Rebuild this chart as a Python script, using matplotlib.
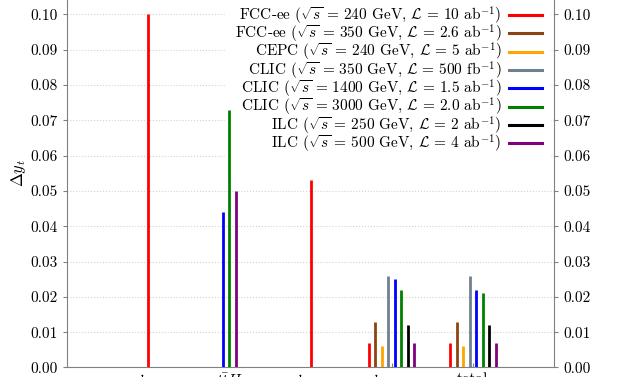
import numpy as np
import matplotlib
matplotlib.use("Agg")
import matplotlib.pyplot as plt

plt.rcParams['font.family'] = 'serif'
plt.rcParams['font.serif'] = ['cmr10']
plt.rcParams['mathtext.fontset'] = 'cm'
plt.rcParams['axes.formatter.use_mathtext'] = True

# channels on the x axis
channels = [r'$h_{gg}$', r'$t\bar{t}H$', r'$h_{\rm incl.}$', r'$h_{\rm global}$', 'total']

labels = [
    r'FCC-ee ($\sqrt{s}\,=\,240$ GeV, $\mathcal{L}\,=\,10$ ab$^{-1}$)',
    r'FCC-ee ($\sqrt{s}\,=\,350$ GeV, $\mathcal{L}\,=\,2.6$ ab$^{-1}$)',
    r'CEPC ($\sqrt{s}\,=\,240$ GeV, $\mathcal{L}\,=\,5$ ab$^{-1}$)',
    r'CLIC ($\sqrt{s}\,=\,350$ GeV, $\mathcal{L}\,=\,500$ fb$^{-1}$)',
    r'CLIC ($\sqrt{s}\,=\,1400$ GeV, $\mathcal{L}\,=\,1.5$ ab$^{-1}$)',
    r'CLIC ($\sqrt{s}\,=\,3000$ GeV, $\mathcal{L}\,=\,2.0$ ab$^{-1}$)',
    r'ILC ($\sqrt{s}\,=\,250$ GeV, $\mathcal{L}\,=\,2$ ab$^{-1}$)',
    r'ILC ($\sqrt{s}\,=\,500$ GeV, $\mathcal{L}\,=\,4$ ab$^{-1}$)',
]
colors = ['red', 'saddlebrown', 'orange', 'slategray', 'blue', 'green', 'black', 'purple']

nan = np.nan
fcc240 = [0.100, nan, 0.053, 0.007, 0.007]
fcc350 = [nan, nan, nan, 0.013, 0.013]
cepc240 = [nan, nan, nan, 0.006, 0.006]
clic350 = [nan, nan, nan, 0.026, 0.026]
clic1400 = [nan, 0.044, nan, 0.025, 0.022]
clic3000 = [nan, 0.073, nan, 0.022, 0.021]
ilc250 = [nan, nan, nan, 0.012, 0.012]
ilc500 = [nan, 0.050, nan, 0.007, 0.007]
series = [fcc240, fcc350, cepc240, clic350, clic1400, clic3000, ilc250, ilc500]

fig = plt.figure(figsize=(6.28, 3.77), dpi=100)
ax = fig.add_axes([0.1067, 0.0252, 0.7755, 1.03])

step = 0.08
for j in range(len(channels)):
    present = [i for i in range(len(series)) if not np.isnan(series[i][j])]
    n = len(present)
    for k, i in enumerate(present):
        x = j + (k - (n - 1) / 2) * step
        ax.vlines(x, 0, series[i][j], color=colors[i], lw=2.0, zorder=3)

for i in range(len(series)):
    ax.plot([], [], color=colors[i], lw=2.2, label=labels[i])

ax.set_xlim(-1, 5)
ax.set_ylim(0, 0.11)
ax.set_xticks(range(len(channels)))
ax.set_xticklabels(channels, fontsize=11)
ax.set_yticks(np.arange(0, 0.101, 0.01))
ax.yaxis.set_major_formatter(matplotlib.ticker.FormatStrFormatter('%.2f'))
ax.tick_params(axis='y', which='both', direction='out', labelsize=11, right=True,
               labelright=True, colors='gray', labelcolor='black', length=3)
ax.tick_params(axis='x', direction='in', colors='gray', labelcolor='black', length=3)
for s in ax.spines.values():
    s.set_color('gray')
ax.grid(axis='y', linestyle=':', color='lightgray', lw=0.8)
ax.set_axisbelow(True)
ax.set_ylabel(r'$\Delta y_t$', fontsize=12, labelpad=2)

leg = ax.legend(loc='upper right', bbox_to_anchor=(1.01, 0.978), markerfirst=False,
                fontsize=11, frameon=True, framealpha=1, edgecolor='none',
                handlelength=2.15, handletextpad=0.5, labelspacing=-0.25, borderpad=0.6)
leg.set_zorder(1.5)

fig.savefig('out.png', dpi=100)
